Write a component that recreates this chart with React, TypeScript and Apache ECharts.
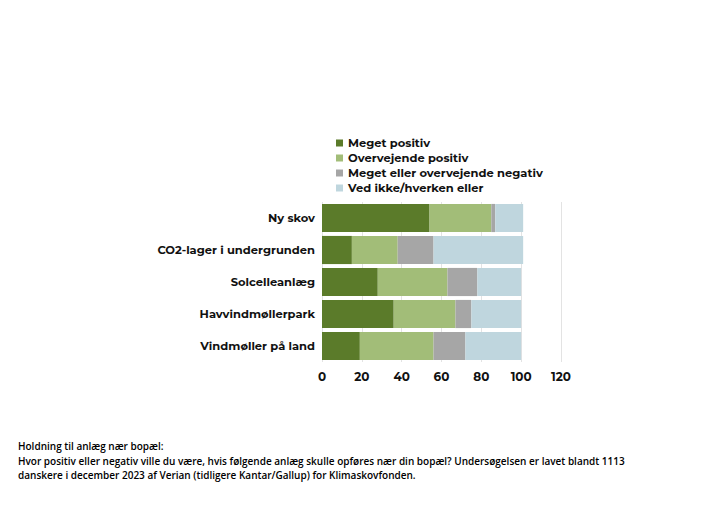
import React, { useEffect, useRef } from "react";
import * as echarts from "echarts";

const categories = ["Ny skov", "CO2-lager i undergrunden", "Solcelleanlæg", "Havvindmøllerpark", "Vindmøller på land"];
const seriesNames = ["Meget positiv", "Overvejende positiv", "Meget eller overvejende negativ", "Ved ikke/hverken eller"];
const megetPositiv = [54, 15, 28, 36, 19];
const overvejendePositiv = [31, 23, 35, 31, 37];
const negativ = [2, 18, 15, 8, 16];
const vedIkke = [14, 45, 22, 25, 28];
const colors = ["#5b7b2a", "#a2bd78", "#a6a6a6", "#bfd6de"];
const footerLines = [
  "Holdning til anlæg nær bopæl:",
  "Hvor positiv eller negativ ville du være, hvis følgende anlæg skulle opføres nær din bopæl? Undersøgelsen er lavet blandt 1113",
  "danskere i december 2023 af Verian (tidligere Kantar/Gallup) for Klimaskovfonden.",
];

const FONT = "Montserrat, 'Noto Sans', sans-serif";

export default function App() {
  const ref = useRef<HTMLDivElement>(null);
  useEffect(() => {
    if (!ref.current) return;
    const chart = echarts.init(ref.current, undefined, { renderer: "svg" });
    const data = [megetPositiv, overvejendePositiv, negativ, vedIkke];
    chart.setOption({
      animation: false,
      backgroundColor: "#ffffff",
      grid: { left: 322, right: 159, top: 202, height: 160, containLabel: false },
      legend: {
        orient: "vertical",
        left: 331,
        top: 131,
        itemWidth: 7,
        itemHeight: 7,
        itemGap: 1,
        icon: "rect",
        textStyle: { fontFamily: FONT, fontWeight: "bold", fontSize: 11.5, lineHeight: 14, color: "#111" },
        data: seriesNames,
      },
      xAxis: {
        type: "value",
        min: 0,
        max: 120,
        interval: 20,
        axisLine: { show: false },
        axisTick: { show: false },
        splitLine: { show: true, lineStyle: { color: "#e3e3e3", width: 1 } },
        axisLabel: { fontFamily: FONT, fontWeight: "bold", fontSize: 12, color: "#111", margin: 8 },
      },
      yAxis: {
        type: "category",
        data: categories,
        inverse: true,
        axisLine: { show: false },
        axisTick: { show: false },
        axisLabel: { fontFamily: FONT, fontWeight: "bold", fontSize: 11.5, color: "#111", margin: 7 },
      },
      series: seriesNames.map((name, i) => ({
        name,
        type: "bar",
        stack: "total",
        barCategoryGap: "12%",
        itemStyle: { color: colors[i] },
        data: data[i],
      })),
      graphic: footerLines.map((t, i) => ({
        type: "text",
        left: 18,
        top: 441 + i * 14.5,
        style: {
          text: t,
          fontFamily: "'Open Sans', sans-serif",
          fontWeight: 600,
          fontSize: 10,
          fill: "#000",
        },
      })),
    });
    return () => chart.dispose();
  }, []);
  return <div ref={ref} style={{ position: "fixed", left: 0, top: 0, width: 720, height: 509 }} />;
}
